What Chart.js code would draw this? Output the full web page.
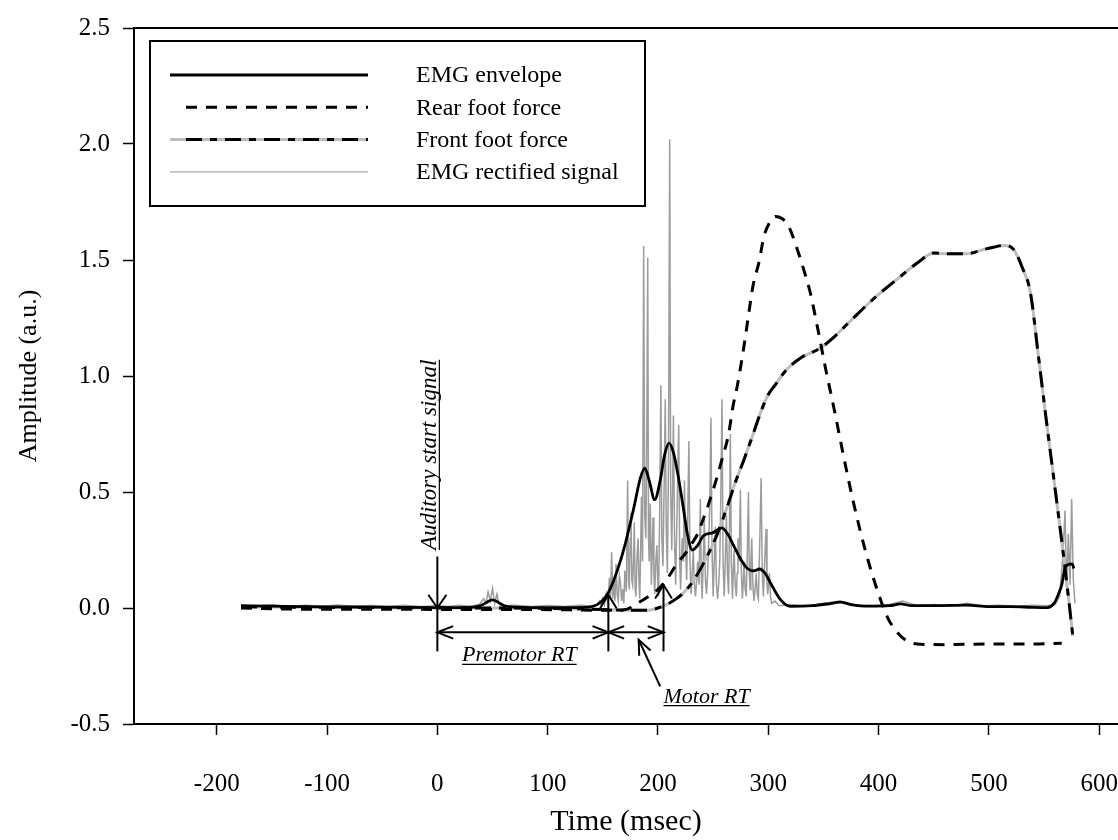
<!DOCTYPE html>
<html lang="en">
<head>
<meta charset="UTF-8">
<title>EMG envelope and foot forces</title>
<style>
  html, body { margin: 0; padding: 0; background: #fff; overflow: hidden; }
  #wrap { width: 1118px; height: 840px; }
</style>
</head>
<body>
<div id="wrap"><canvas id="chart" width="1118" height="840"></canvas></div>
<script src="https://cdn.jsdelivr.net/npm/chart.js"></script>
<script>
// series names, in legend order
const seriesNames = ["EMG envelope", "Rear foot force", "Front foot force", "EMG rectified signal"];

// tick labels
const xTicks = [-200, -100, 0, 100, 200, 300, 400, 500, 600];
const yTicks = [-0.5, 0.0, 0.5, 1.0, 1.5, 2.0, 2.5];

// EMG envelope (msec, a.u.)
const envTime = [-178, -150, -100, -50, 0, 25, 38, 45, 50, 55, 62, 75, 100, 125, 140, 148, 155, 163, 170, 178,
  184, 188, 192, 197, 202, 206, 210, 214, 219, 223, 227, 231, 236, 241, 250, 258, 263, 269, 275, 281,
  287, 292, 297, 302, 311, 320, 340, 355, 365, 375, 390, 410, 420, 430, 450, 480, 500, 520, 540, 553,
  559, 563, 566, 569.5, 575.5, 577];
const envValue = [0.01, 0.008, 0.005, 0.004, 0.002, 0.002, 0.008, 0.025, 0.035, 0.025, 0.008, 0.003, 0.002, 0.002, 0.006, 0.025, 0.066, 0.16, 0.27, 0.43,
  0.56, 0.603, 0.55, 0.467, 0.55, 0.66, 0.711, 0.67, 0.55, 0.43, 0.31, 0.25, 0.27, 0.31, 0.325, 0.345, 0.32, 0.265, 0.21, 0.17,
  0.16, 0.168, 0.15, 0.108, 0.036, 0.007, 0.01, 0.018, 0.025, 0.015, 0.008, 0.01, 0.018, 0.01, 0.01, 0.012, 0.006, 0.006, 0.003, 0.002,
  0.02, 0.06, 0.1, 0.18, 0.19, 0.17];

// Rear foot force
const rearTime = [-178, -120, -60, 0, 60, 120, 160, 172, 181, 190, 200, 209, 217, 224, 231, 236, 240, 246, 252, 258,
  264, 268, 272, 278, 282, 286, 291.5, 296, 301, 306.6, 312, 318.5, 326, 332, 338, 345, 352, 360, 368, 376,
  384, 392, 400, 408, 416, 425, 435, 460, 500, 540, 566];
const rearValue = [0.0, -0.005, -0.005, -0.006, -0.006, -0.008, -0.01, -0.005, 0.02, 0.045, 0.08, 0.13, 0.19, 0.23, 0.28, 0.32, 0.37, 0.45, 0.54, 0.64,
  0.75, 0.87, 0.96, 1.13, 1.26, 1.386, 1.49, 1.6, 1.66, 1.688, 1.68, 1.645, 1.55, 1.46, 1.36, 1.2, 1.03, 0.85, 0.66, 0.48,
  0.32, 0.18, 0.06, -0.04, -0.1, -0.14, -0.155, -0.158, -0.155, -0.155, -0.152];

// Front foot force
const frontTime = [-178, -120, -60, 0, 60, 120, 160, 175, 190, 200, 208, 215, 222, 231, 241, 253, 263, 270, 278, 287,
  294, 300, 306, 317, 330, 347, 360, 375, 395.5, 420, 435, 450, 462, 480, 495, 504, 513.5, 522.5, 530, 537.6,
  545, 552, 559, 567, 572, 576];
const frontValue = [0.005, 0.003, 0.002, 0.0, 0.0, -0.003, -0.008, -0.01, -0.01, 0.0, 0.015, 0.035, 0.06, 0.11, 0.19, 0.31, 0.44, 0.54, 0.64, 0.76,
  0.855, 0.92, 0.96, 1.03, 1.08, 1.12, 1.17, 1.24, 1.333, 1.43, 1.487, 1.53, 1.527, 1.527, 1.545, 1.555, 1.563, 1.545, 1.47, 1.36,
  1.08, 0.81, 0.55, 0.25, 0.05, -0.12];

// EMG rectified signal
const rectTime = [-178, -165, -150, -135, -120, -105, -90, -75, -60, -45, -30, -15, 0, 10, 20, 30, 38, 42, 44, 46,
  48, 50, 52, 54, 56, 60, 70, 85, 100, 115, 130, 140,
  145, 147, 148.5, 150, 151.5, 153, 154.5, 156, 157, 158, 159, 160, 161, 162, 163, 164, 165, 166, 167, 168, 169, 170,
  171.3, 172.5, 173.3, 174, 174.8, 175.5, 176.3, 177, 177.8, 178.5, 179.3, 180, 181, 182, 182.8, 183.5, 184.3, 185, 186, 187,
  188, 189, 189.8, 190.7, 191.4, 192, 193, 194, 194.8, 195.5, 196.3, 197, 198, 199, 199.8, 200.5, 201.5, 202.6, 203.5, 204.5,
  205.5, 206.6, 207.5, 208.5, 209.5, 210.6, 211.5, 212.5, 213.2, 214, 215, 216, 217.4, 218.8, 219.7, 220.5, 221.2, 222, 223, 224,
  225, 226, 227, 228, 229, 230, 231, 232, 233, 234, 235, 236, 237.2, 238.4, 239.2, 240, 241, 242, 243, 244,
  245, 246, 247, 248, 249, 250, 251, 252, 253, 254, 255, 256, 257, 258, 259, 260, 261, 262, 263, 264,
  264.8, 265.6, 266.5, 267.5, 268.2, 269, 270, 271, 271.8, 272.5, 273.6, 274.7, 275.6, 276.5, 277.2, 278, 279, 280, 281, 282,
  282.8, 283.5, 284.2, 285, 286, 287, 288, 289, 290, 291, 292.3, 293.5, 294.5, 295.5, 296.7, 298, 298.8, 299.5, 300.2, 301,
  302, 303, 306, 310, 320, 335, 350, 365, 380, 395, 410, 422, 435, 450, 465, 480, 495, 510, 525, 540,
  552, 560, 564, 567, 569, 570.5, 572, 573.5, 575, 576.5, 578];
const rectValue = [0.012, 0.008, 0.014, 0.006, 0.012, 0.008, 0.013, 0.006, 0.011, 0.007, 0.012, 0.006, 0.01, 0.006, 0.012, 0.008, 0.015, 0.04, 0.02, 0.07,
  0.03, 0.085, 0.02, 0.06, 0.015, 0.01, 0.012, 0.006, 0.011, 0.007, 0.012, 0.008,
  0.015, 0.03, 0.01, 0.04, 0.015, 0.06, 0.02, 0.13, 0.05, 0.24, 0.04, 0.12, 0.03, 0.19, 0.06, 0.03, 0.14, 0.11, 0.03, 0.08, 0.02, 0.16,
  0.07, 0.55, 0.12, 0.08, 0.3, 0.41, 0.12, 0.1, 0.2, 0.37, 0.08, 0.05, 0.22, 0.3, 0.1, 0.04, 0.25, 0.48, 0.2, 1.56,
  0.4, 0.3, 0.7, 1.51, 0.3, 0.2, 0.45, 0.1, 0.25, 0.39, 0.15, 0.06, 0.2, 0.27, 0.1, 0.05, 0.4, 0.96, 0.3, 0.18,
  0.5, 0.9, 0.35, 0.15, 0.6, 2.02, 0.5, 0.25, 0.5, 0.83, 0.3, 0.1, 0.45, 0.79, 0.2, 0.08, 0.2, 0.3, 0.2, 0.55,
  0.25, 0.12, 0.4, 0.72, 0.2, 0.06, 0.15, 0.25, 0.1, 0.05, 0.12, 0.2, 0.1, 0.47, 0.15, 0.04, 0.2, 0.38, 0.12, 0.06,
  0.15, 0.3, 0.45, 0.82, 0.25, 0.05, 0.2, 0.35, 0.1, 0.04, 0.1, 0.2, 0.5, 0.9, 0.2, 0.05, 0.2, 0.4, 0.15, 0.06,
  0.35, 0.75, 0.2, 0.04, 0.15, 0.25, 0.1, 0.05, 0.15, 0.3, 0.2, 0.51, 0.15, 0.04, 0.1, 0.2, 0.08, 0.05, 0.25, 0.5,
  0.15, 0.08, 0.2, 0.3, 0.1, 0.03, 0.08, 0.15, 0.06, 0.04, 0.3, 0.56, 0.15, 0.05, 0.2, 0.34, 0.1, 0.06, 0.1, 0.15,
  0.05, 0.02, 0.03, 0.01, 0.015, 0.008, 0.02, 0.03, 0.012, 0.01, 0.015, 0.03, 0.01, 0.015, 0.008, 0.02, 0.01, 0.012, 0.008, 0.012,
  0.01, 0.015, 0.05, 0.22, 0.42, 0.06, 0.32, 0.1, 0.47, 0.12, 0.02];

// marked events (msec)
const startT = 0, premotorEnd = 155, motorEnd = 205;

const serif = "'Liberation Serif', 'Times New Roman', serif";
const pts = (ts, vs) => ts.map((t, i) => ({ x: t, y: vs[i] }));
const frontDash = [16, 8, 7, 8];
const rearDash = [11, 9];

function arrowHead(ctx, x, y, angle, len, spread) {
  ctx.beginPath();
  ctx.moveTo(x - len * Math.cos(angle - spread), y - len * Math.sin(angle - spread));
  ctx.lineTo(x, y);
  ctx.lineTo(x - len * Math.cos(angle + spread), y - len * Math.sin(angle + spread));
  ctx.stroke();
}

function line(ctx, x1, y1, x2, y2) {
  ctx.beginPath();
  ctx.moveTo(x1, y1);
  ctx.lineTo(x2, y2);
  ctx.stroke();
}

function underlined(ctx, text, x, y) {
  ctx.fillText(text, x, y);
  const w = ctx.measureText(text).width;
  ctx.lineWidth = 1.2;
  line(ctx, x, y + 3, x + w, y + 3);
}

// top frame line (the right edge lies outside the picture)
const framePlugin = {
  id: 'frame',
  afterDraw(chart) {
    const { ctx, chartArea: a } = chart;
    ctx.save();
    ctx.strokeStyle = '#000';
    ctx.lineWidth = 2;
    line(ctx, a.left, a.top, a.right, a.top);
    ctx.restore();
  }
};

// boxed legend in the upper left
const legendPlugin = {
  id: 'boxLegend',
  afterDraw(chart) {
    const { ctx, chartArea: a } = chart;
    const bx = a.left + 16, by = a.top + 13, bw = 495, bh = 165;
    ctx.save();
    ctx.strokeStyle = '#000';
    ctx.lineWidth = 2;
    ctx.strokeRect(bx, by, bw, bh);
    const x1 = bx + 20, x2 = bx + 218, tx = bx + 266;
    ctx.font = '24px ' + serif;
    ctx.textBaseline = 'middle';
    ctx.fillStyle = '#000';
    seriesNames.forEach((name, i) => {
      const y = by + 34 + i * 32.3;
      ctx.setLineDash([]);
      if (i === 0) { ctx.strokeStyle = '#000'; ctx.lineWidth = 3; line(ctx, x1, y, x2, y); }
      if (i === 1) { ctx.strokeStyle = '#000'; ctx.lineWidth = 3; ctx.setLineDash(rearDash); line(ctx, x1 + 16, y, x2, y); }
      if (i === 2) {
        ctx.strokeStyle = '#bdbdbd'; ctx.lineWidth = 3; line(ctx, x1, y, x2, y);
        ctx.strokeStyle = '#000'; ctx.setLineDash(frontDash); line(ctx, x1 + 16, y, x2, y);
      }
      if (i === 3) { ctx.strokeStyle = '#a8a8a8'; ctx.lineWidth = 1.4; line(ctx, x1, y, x2, y); }
      ctx.setLineDash([]);
      ctx.fillText(name, tx, y + 1);
    });
    ctx.restore();
  }
};

// reaction time markers
const markPlugin = {
  id: 'marks',
  afterDatasetsDraw(chart) {
    const { ctx } = chart;
    const X = v => chart.scales.x.getPixelForValue(v);
    const Y = v => chart.scales.y.getPixelForValue(v);
    const x0 = X(startT), x1 = X(premotorEnd), x2 = X(motorEnd);
    const yArr = Y(-0.105), yLow = Y(-0.187);
    ctx.save();
    ctx.strokeStyle = '#000';
    ctx.fillStyle = '#000';
    ctx.lineWidth = 2;
    // start signal
    line(ctx, x0, Y(0.222), x0, yLow);
    arrowHead(ctx, x0, Y(0), Math.PI / 2, 16, 0.6);
    // premotor and motor end markers
    line(ctx, x1, Y(0.057), x1, yLow);
    arrowHead(ctx, x1, Y(0.057), -Math.PI / 2, 16, 0.55);
    line(ctx, x2, Y(0.1), x2, yLow);
    arrowHead(ctx, x2, Y(0.1), -Math.PI / 2, 16, 0.55);
    // horizontal spans
    line(ctx, x0, yArr, x1, yArr);
    arrowHead(ctx, x0, yArr, Math.PI, 17, 0.38);
    arrowHead(ctx, x1, yArr, 0, 17, 0.38);
    line(ctx, x1, yArr, x2, yArr);
    arrowHead(ctx, x1, yArr, Math.PI, 17, 0.38);
    arrowHead(ctx, x2, yArr, 0, 17, 0.38);
    // pointer to motor span
    const px = X(182.5), py = Y(-0.137);
    line(ctx, X(202), Y(-0.338), px, py);
    arrowHead(ctx, px, py, Math.atan2(py - Y(-0.338), px - X(202)), 16, 0.4);
    // labels
    ctx.font = 'italic 22px ' + serif;
    ctx.textBaseline = 'alphabetic';
    const pw = ctx.measureText('Premotor RT').width;
    underlined(ctx, 'Premotor RT', X(74.3) - pw / 2, Y(-0.23));
    underlined(ctx, 'Motor RT', X(205), Y(-0.408));
    ctx.save();
    ctx.translate(x0 - 1, Y(0.66));
    ctx.rotate(-Math.PI / 2);
    ctx.font = 'italic 23px ' + serif;
    const aw = ctx.measureText('Auditory start signal').width;
    underlined(ctx, 'Auditory start signal', -aw / 2, 0);
    ctx.restore();
    ctx.restore();
  }
};

const axisGrid = { drawOnChartArea: false, drawTicks: true, tickLength: 11, tickWidth: 1.5, tickColor: '#000' };
const axisBorder = { display: true, color: '#000', width: 2 };

new Chart(document.getElementById('chart').getContext('2d'), {
  type: 'line',
  data: {
    datasets: [
      { label: seriesNames[0], data: pts(envTime, envValue), borderColor: '#000', borderWidth: 2.8,
        cubicInterpolationMode: 'monotone', order: 0 },
      { label: seriesNames[1], data: pts(rearTime, rearValue), borderColor: '#000', borderWidth: 3,
        borderDash: rearDash, cubicInterpolationMode: 'monotone', order: 1 },
      { label: seriesNames[2], data: pts(frontTime, frontValue), borderColor: '#000', borderWidth: 3,
        borderDash: frontDash, cubicInterpolationMode: 'monotone', order: 2 },
      { label: seriesNames[2], data: pts(frontTime, frontValue), borderColor: '#bdbdbd', borderWidth: 3,
        cubicInterpolationMode: 'monotone', order: 3 },
      { label: seriesNames[3], data: pts(rectTime, rectValue), borderColor: '#9c9c9c', borderWidth: 1.5,
        tension: 0, order: 4 }
    ]
  },
  options: {
    responsive: false,
    animation: false,
    layout: { padding: { top: 28, right: 0, bottom: 0, left: 0 } },
    elements: { point: { radius: 0 }, line: { fill: false } },
    plugins: { legend: { display: false }, tooltip: { enabled: false } },
    scales: {
      x: {
        type: 'linear', min: -275, max: 617,
        afterBuildTicks: s => { s.ticks = xTicks.map(v => ({ value: v })); },
        afterFit: s => { s.height = 116; s.paddingLeft = 0; s.paddingRight = 0; },
        grid: axisGrid, border: axisBorder,
        ticks: { color: '#000', padding: 34, maxRotation: 0, autoSkip: false,
          font: { family: serif, size: 25 }, callback: v => String(v) },
        title: { display: true, text: 'Time (msec)', color: '#000',
          font: { family: serif, size: 30 }, padding: { top: 0, bottom: 0 } }
      },
      y: {
        type: 'linear', min: -0.5, max: 2.5,
        afterBuildTicks: s => { s.ticks = yTicks.map(v => ({ value: v })); },
        afterFit: s => { s.width = 134; s.paddingTop = 0; s.paddingBottom = 0; },
        grid: axisGrid, border: axisBorder,
        ticks: { color: '#000', padding: 13, font: { family: serif, size: 25 },
          callback: v => Number(v).toFixed(1) },
        title: { display: true, text: 'Amplitude (a.u.)', color: '#000',
          font: { family: serif, size: 26 }, padding: { top: 14, bottom: 0 } }
      }
    }
  },
  plugins: [framePlugin, legendPlugin, markPlugin]
});
</script>
</body>
</html>
